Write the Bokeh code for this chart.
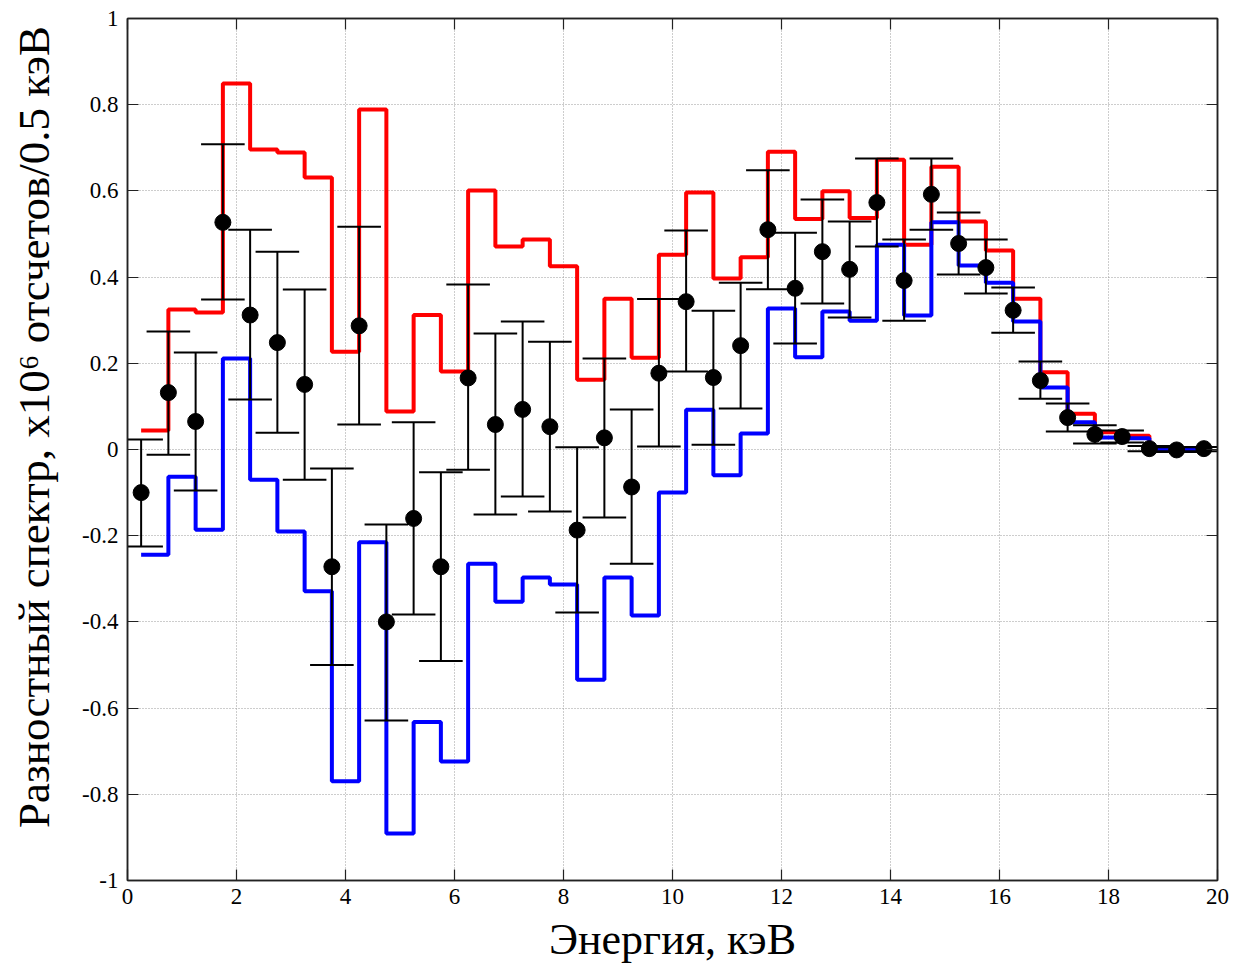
import numpy as np
from bokeh.plotting import figure
from bokeh.models import FixedTicker, LinearAxis, Range1d, CustomJSTickFormatter
from bokeh.embed import file_html
from bokeh.resources import INLINE

# Bin centres (keV)
energy = [0.25, 0.75, 1.25, 1.75, 2.25, 2.75, 3.25, 3.75, 4.25, 4.75,
          5.25, 5.75, 6.25, 6.75, 7.25, 7.75, 8.25, 8.75, 9.25, 9.75,
          10.25, 10.75, 11.25, 11.75, 12.25, 12.75, 13.25, 13.75, 14.25, 14.75,
          15.25, 15.75, 16.25, 16.75, 17.25, 17.75, 18.25, 18.75, 19.25, 19.75]

# Measured difference spectrum (points) and error bar ends
data_y = [-0.10, 0.132, 0.065, 0.527, 0.312, 0.248, 0.151, -0.272, 0.287, -0.40,
          -0.16, -0.272, 0.166, 0.058, 0.093, 0.053, -0.187, 0.027, -0.087, 0.177,
          0.343, 0.167, 0.241, 0.51, 0.374, 0.459, 0.418, 0.573, 0.392, 0.592,
          0.478, 0.422, 0.323, 0.16, 0.074, 0.035, 0.03, 0.002, -0.001, 0.002]
data_hi = [0.023, 0.274, 0.225, 0.708, 0.51, 0.459, 0.371, -0.044, 0.517, -0.174,
           0.063, -0.053, 0.383, 0.269, 0.297, 0.25, 0.005, 0.211, 0.093, 0.349,
           0.508, 0.322, 0.387, 0.648, 0.503, 0.58, 0.529, 0.675, 0.487, 0.675,
           0.55, 0.487, 0.376, 0.204, 0.107, 0.056, 0.044, 0.008, 0.005, 0.006]
data_lo = [-0.225, -0.012, -0.095, 0.348, 0.116, 0.039, -0.07, -0.50, 0.058, -0.629,
           -0.383, -0.491, -0.047, -0.151, -0.109, -0.144, -0.378, -0.158, -0.265, 0.007,
           0.181, 0.011, 0.095, 0.372, 0.246, 0.339, 0.306, 0.471, 0.299, 0.51,
           0.406, 0.362, 0.271, 0.118, 0.042, 0.014, 0.016, -0.004, -0.006, -0.004]

# Upper (red) and lower (blue) model envelopes
red_y = [0.044, 0.325, 0.318, 0.849, 0.696, 0.689, 0.631, 0.227, 0.789, 0.088,
         0.312, 0.181, 0.601, 0.471, 0.487, 0.425, 0.162, 0.35, 0.213, 0.452,
         0.596, 0.397, 0.446, 0.691, 0.535, 0.599, 0.537, 0.672, 0.475, 0.656,
         0.529, 0.462, 0.35, 0.179, 0.083, 0.04, 0.032, 0.003, 0.002, 0.002]
blue_y = [-0.244, -0.063, -0.186, 0.211, -0.07, -0.19, -0.329, -0.77, -0.215, -0.891,
          -0.632, -0.724, -0.265, -0.353, -0.297, -0.313, -0.534, -0.297, -0.385, -0.10,
          0.092, -0.06, 0.037, 0.327, 0.214, 0.32, 0.299, 0.475, 0.311, 0.527,
          0.427, 0.387, 0.297, 0.144, 0.063, 0.028, 0.026, 0.0, 0.0, 0.0]

x_ticks = [0, 2, 4, 6, 8, 10, 12, 14, 16, 18, 20]
y_ticks = [-1, -0.8, -0.6, -0.4, -0.2, 0, 0.2, 0.4, 0.6, 0.8, 1]
y_tick_labels = ["-1", "-0.8", "-0.6", "-0.4", "-0.2", "0", "0.2", "0.4", "0.6", "0.8", "1"]

FONT = "Liberation Serif"

p = figure(width=1233, height=968, output_backend="svg", toolbar_location=None,
           x_range=Range1d(0, 20), y_range=Range1d(-1, 1),
           min_border_left=127, min_border_right=16, min_border_top=18, min_border_bottom=88)
p.background_fill_color = "white"
p.border_fill_color = "white"
p.outline_line_color = "#222222"
p.outline_line_width = 1.5

# steps
p.step(energy, red_y, mode="after", line_color="#ff0000", line_width=4)
p.step(energy, blue_y, mode="after", line_color="#0000ff", line_width=4)

# error bars
ex = np.array(energy)
cap = 0.4
p.segment(x0=ex, y0=data_lo, x1=ex, y1=data_hi, line_color="black", line_width=2)
p.segment(x0=ex - cap, y0=data_hi, x1=ex + cap, y1=data_hi, line_color="black", line_width=2)
p.segment(x0=ex - cap, y0=data_lo, x1=ex + cap, y1=data_lo, line_color="black", line_width=2)
p.scatter(energy, data_y, size=16, marker="circle", fill_color="black", line_color="black")

# axes styling
for ax in (p.xaxis[0], p.yaxis[0]):
    ax.major_tick_in = 11
    ax.major_tick_out = 0
    ax.minor_tick_in = 0
    ax.minor_tick_out = 0
    ax.axis_line_color = "#222222"
    ax.axis_line_width = 1.5
    ax.major_tick_line_color = "#222222"
    ax.major_tick_line_width = 1.2
    ax.major_label_text_font = FONT
    ax.major_label_text_font_size = "23px"
    ax.major_label_text_color = "black"
    ax.axis_label_text_font = FONT
    ax.axis_label_text_font_style = "normal"
    ax.axis_label_text_color = "black"

p.xaxis[0].ticker = FixedTicker(ticks=x_ticks)
p.yaxis[0].ticker = FixedTicker(ticks=y_ticks)
p.yaxis[0].major_label_overrides = {t: l for t, l in zip(y_ticks, y_tick_labels)}
p.xaxis[0].major_label_standoff = 8
p.yaxis[0].major_label_standoff = 9
p.xaxis[0].axis_label = "Энергия, кэВ"
p.xaxis[0].axis_label_text_font_size = "44px"
p.xaxis[0].axis_label_standoff = 8
p.yaxis[0].axis_label = "\u00a0\u00a0\u00a0\u00a0Разностный спектр, x10⁶ отсчетов/0.5 кэВ"
p.yaxis[0].axis_label_text_font_size = "45px"
p.yaxis[0].axis_label_standoff = 20

# mirrored axes (ticks only, no labels)
blank = CustomJSTickFormatter(code="return '';")
right = LinearAxis(ticker=FixedTicker(ticks=y_ticks), formatter=blank)
top = LinearAxis(ticker=FixedTicker(ticks=x_ticks), formatter=blank)
for ax in (right, top):
    ax.major_tick_in = 11
    ax.major_tick_out = 0
    ax.minor_tick_in = 0
    ax.minor_tick_out = 0
    ax.major_label_standoff = 0
    ax.axis_line_color = "#222222"
    ax.axis_line_width = 1.5
    ax.major_tick_line_color = "#222222"
    ax.major_tick_line_width = 1.2
p.add_layout(right, "right")
p.add_layout(top, "above")

# grid
for g in (p.xgrid[0], p.ygrid[0]):
    g.grid_line_color = "#9a9a9a"
    g.grid_line_dash = "1 2"
    g.grid_line_width = 1
p.xgrid[0].ticker = FixedTicker(ticks=x_ticks)
p.ygrid[0].ticker = FixedTicker(ticks=y_ticks)

open("out.html", "w").write(file_html(p, INLINE))
